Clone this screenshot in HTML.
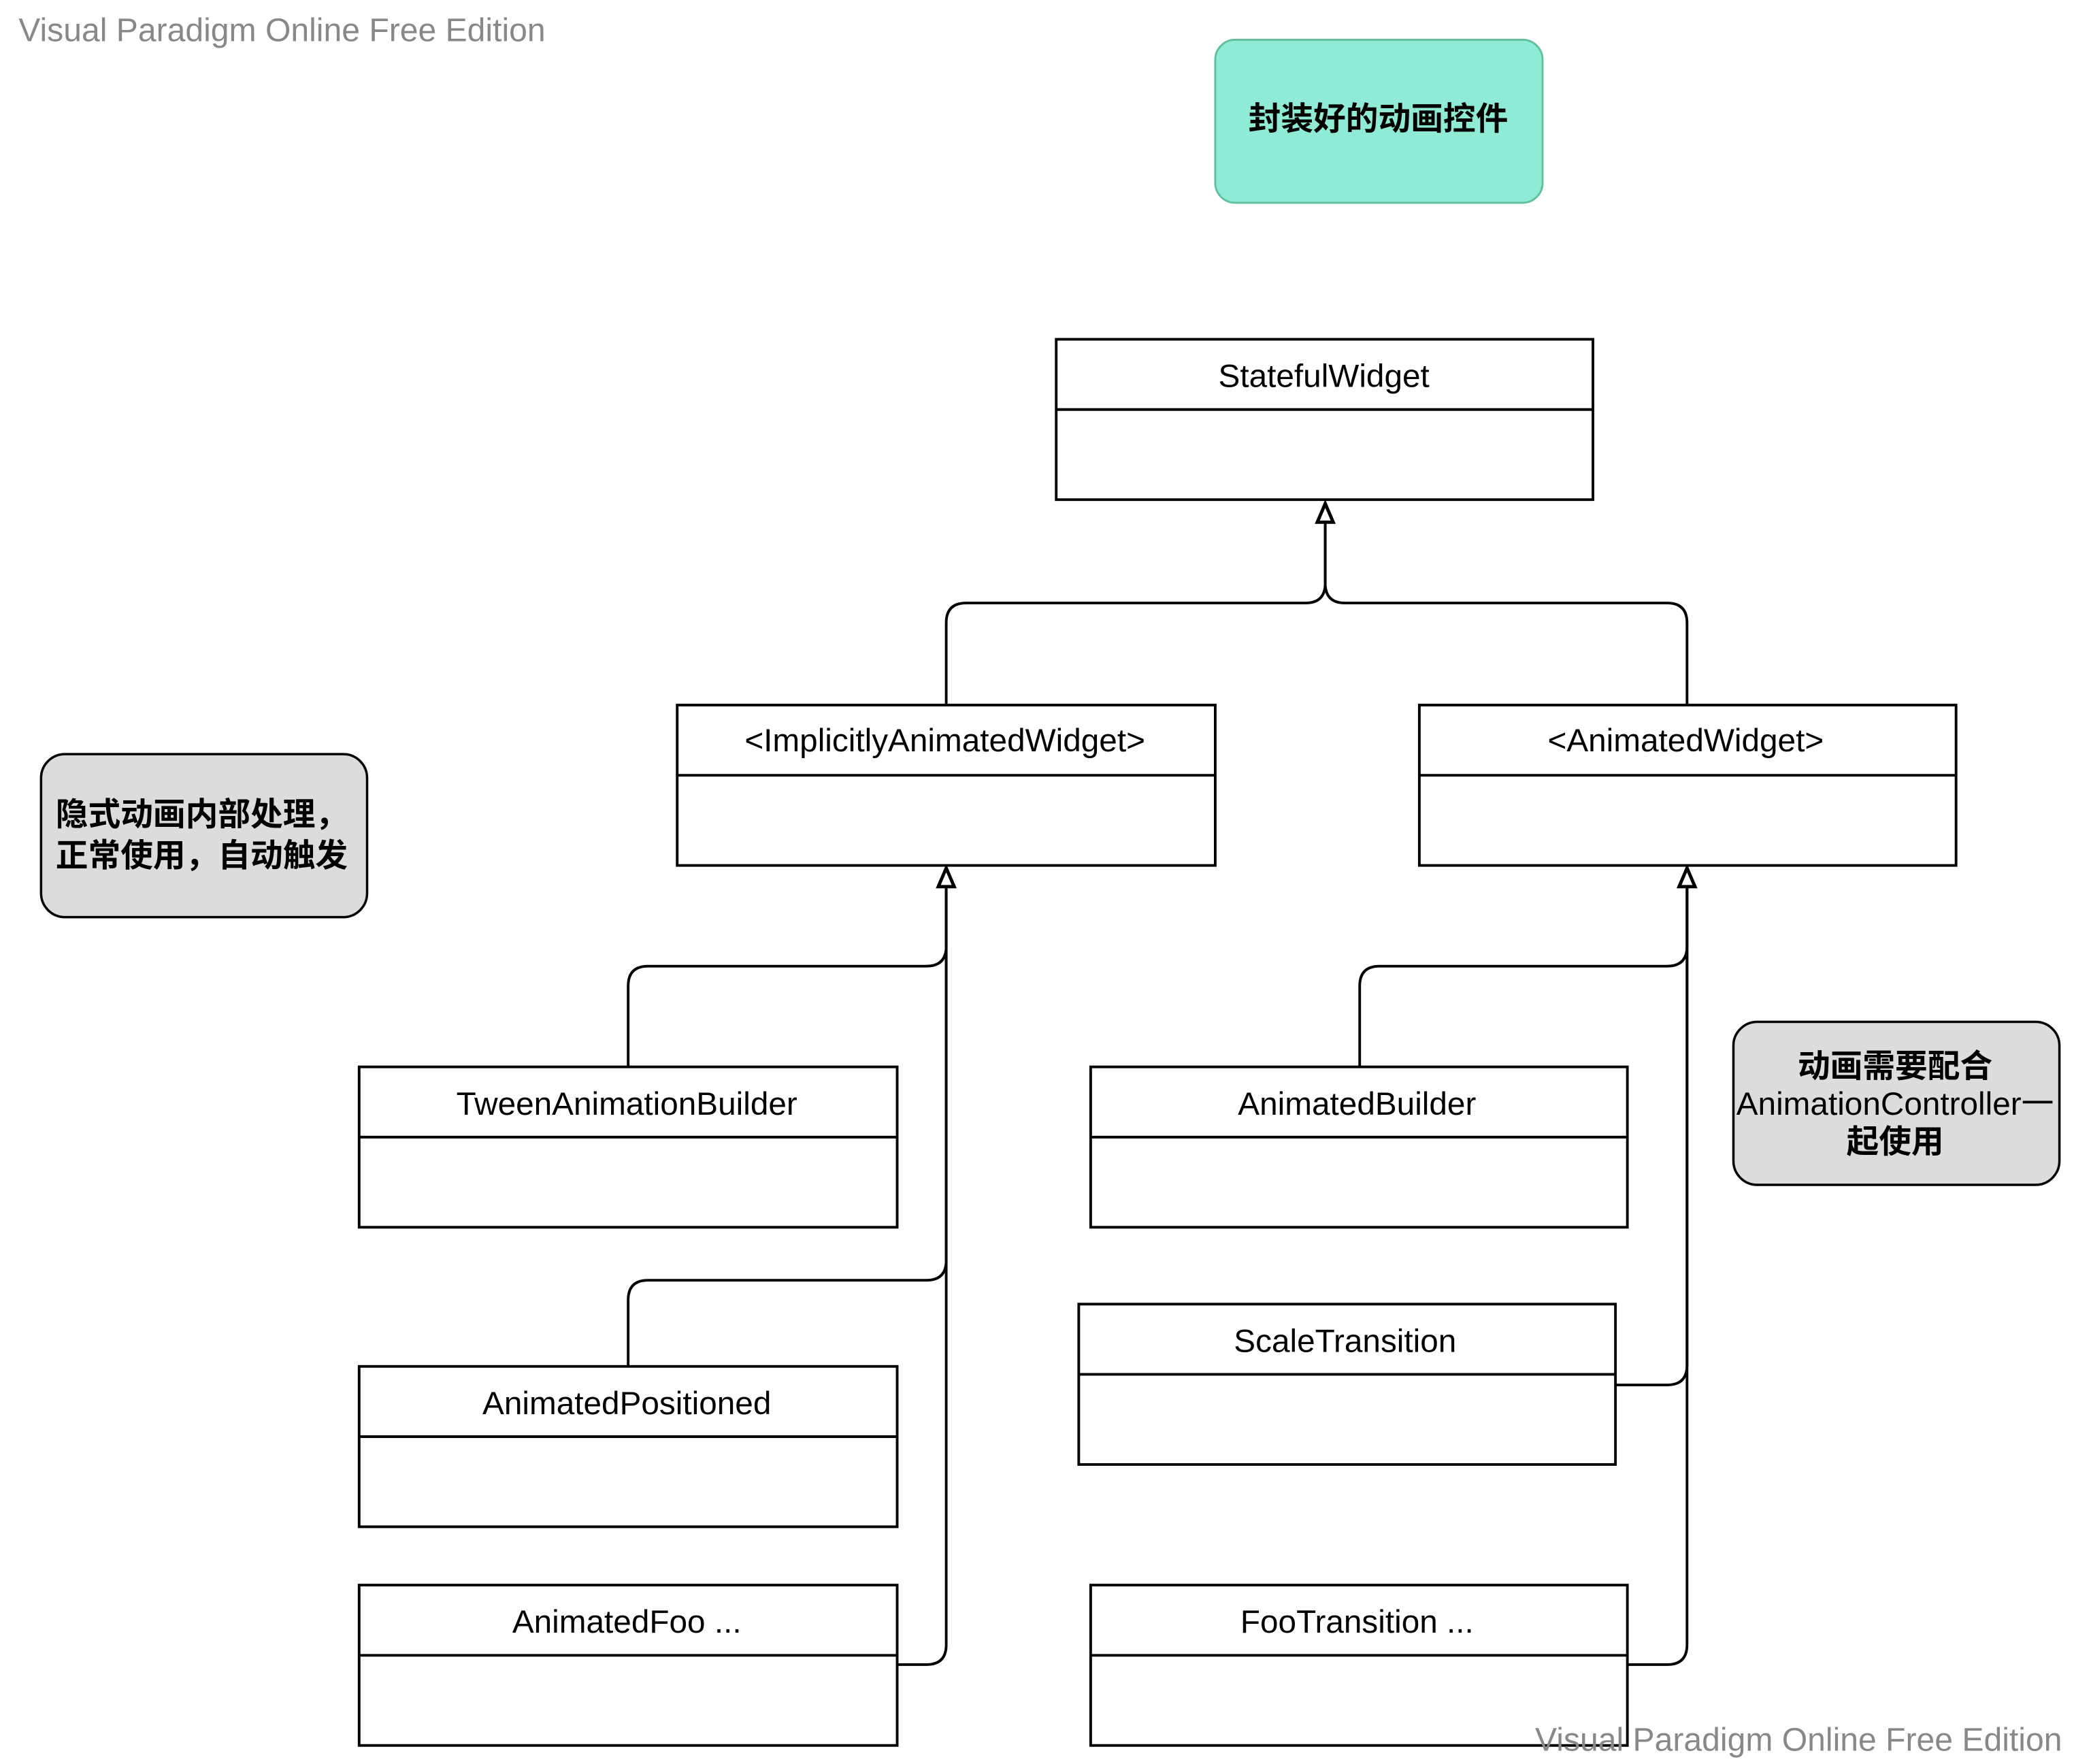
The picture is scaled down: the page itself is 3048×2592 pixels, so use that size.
<!DOCTYPE html>
<html><head><meta charset="utf-8"><style>html,body{margin:0;padding:0;background:#fff}svg{display:block}</style></head>
<body>
<svg width="3048" height="2592" viewBox="0 0 1565 1331" preserveAspectRatio="none" xmlns="http://www.w3.org/2000/svg" font-family="'Liberation Sans','Noto Sans CJK SC',sans-serif">
<rect width="1565" height="1331" fill="#fff"/>
<text x="14" y="31" font-size="24.7" fill="#888">Visual Paradigm Online Free Edition</text>
<rect x="917" y="30" width="247" height="123" rx="15" fill="#90ebd4" stroke="#5fbf9f" stroke-width="1.5"/>
<text x="1040" y="98" font-size="24.5" text-anchor="middle" font-weight="bold">封装好的动画控件</text>
<g fill="#fff" stroke="#000" stroke-width="2">
<rect x="797" y="256" width="405" height="121"/><line x1="797" y1="309" x2="1202" y2="309"/>
<rect x="511" y="532" width="406" height="121"/><line x1="511" y1="585" x2="917" y2="585"/>
<rect x="1071" y="532" width="405" height="121"/><line x1="1071" y1="585" x2="1476" y2="585"/>
<rect x="271" y="805" width="406" height="121"/><line x1="271" y1="858" x2="677" y2="858"/>
<rect x="271" y="1031" width="406" height="121"/><line x1="271" y1="1084" x2="677" y2="1084"/>
<rect x="271" y="1196" width="406" height="121"/><line x1="271" y1="1249" x2="677" y2="1249"/>
<rect x="823" y="805" width="405" height="121"/><line x1="823" y1="858" x2="1228" y2="858"/>
<rect x="814" y="984" width="405" height="121"/><line x1="814" y1="1037" x2="1219" y2="1037"/>
<rect x="823" y="1196" width="405" height="121"/><line x1="823" y1="1249" x2="1228" y2="1249"/>
</g>
<g font-size="24.5" text-anchor="middle">
<text x="999" y="292">StatefulWidget</text>
<text x="713" y="567">&lt;ImplicitlyAnimatedWidget&gt;</text>
<text x="1272" y="567">&lt;AnimatedWidget&gt;</text>
<text x="473" y="841">TweenAnimationBuilder</text>
<text x="473" y="1067">AnimatedPositioned</text>
<text x="473" y="1232">AnimatedFoo ...</text>
<text x="1024" y="841">AnimatedBuilder</text>
<text x="1015" y="1020">ScaleTransition</text>
<text x="1024" y="1232">FooTransition ...</text>
</g>
<g fill="none" stroke="#000" stroke-width="2">
<path d="M1000 394 V440 Q1000 455 985 455 H729 Q714 455 714 470 V532"/>
<path d="M1000 394 V440 Q1000 455 1015 455 H1258 Q1273 455 1273 470 V532"/>
<path d="M714 669 V714 Q714 729 699 729 H489 Q474 729 474 744 V805"/>
<path d="M714 669 V951 Q714 966 699 966 H489 Q474 966 474 981 V1031"/>
<path d="M714 669 V1241 Q714 1256 699 1256 H677"/>
<path d="M1273 669 V714 Q1273 729 1258 729 H1041 Q1026 729 1026 744 V805"/>
<path d="M1273 669 V1030 Q1273 1045 1258 1045 H1219"/>
<path d="M1273 669 V1241 Q1273 1256 1258 1256 H1228"/>
</g>
<g fill="#fff" stroke="#000" stroke-width="2.5">
<path d="M1000 380 L994 394 H1006 Z"/>
<path d="M714 655 L708 669 H720 Z"/>
<path d="M1273 655 L1267 669 H1279 Z"/>
</g>
<rect x="31" y="569" width="246" height="123" rx="18" fill="#dcdcdc" stroke="#000" stroke-width="1.8"/>
<text x="42" y="623" font-size="24.5" font-weight="bold">隐式动画内部处理，</text>
<text x="42" y="654" font-size="24.5" font-weight="bold">正常使用，自动触发</text>
<rect x="1308" y="771" width="246" height="123" rx="18" fill="#dcdcdc" stroke="#000" stroke-width="1.8"/>
<g font-size="24.5" text-anchor="middle">
<text x="1430" y="813" font-weight="bold">动画需要配合</text>
<text x="1430" y="841">AnimationController一</text>
<text x="1430" y="870" font-weight="bold">起使用</text>
</g>
<text x="1556" y="1321" font-size="24.7" fill="#888" text-anchor="end">Visual Paradigm Online Free Edition</text>
</svg>
</body></html>
